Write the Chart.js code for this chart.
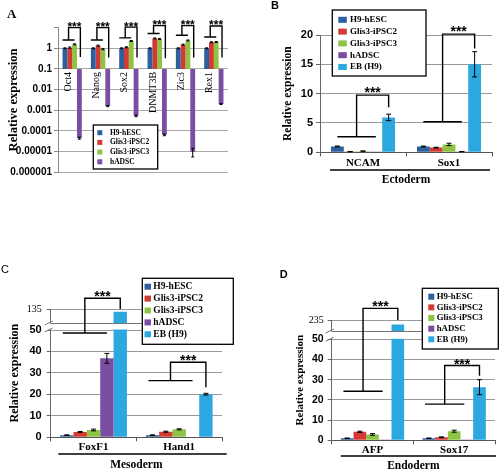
<!DOCTYPE html>
<html>
<head>
<meta charset="utf-8">
<script src="https://cdn.jsdelivr.net/npm/chart.js@4.4.1/dist/chart.umd.min.js"></script>
<style>
  body { margin: 0; background: #fff; }
  #page { position: relative; width: 500px; height: 475px; overflow: hidden; background: #fff; }
  #page canvas { position: absolute; left: 0; top: 0; }
</style>
</head>
<body>
<div id="page">
  <canvas id="chartA" width="500" height="475"></canvas>
  <canvas id="chartB" width="500" height="475"></canvas>
  <canvas id="chartC" width="500" height="475"></canvas>
  <canvas id="chartD" width="500" height="475"></canvas>
</div>
<script>
// ---- shared series ----
const cellLines = ["H9-hESC", "Glis3-iPSC2", "Glis3-iPSC3", "hADSC", "EB (H9)"];
const lineColors = ["#2d5e9e", "#d33a33", "#8dc443", "#7a4ea2", "#2ba8e0"];

// ---- A: pluripotency markers, log axis, bars start at 0.1 ----
const pluriGenes = ["Oct4", "Nanog", "Sox2", "DNMT3B", "Zic3", "Rex1"];
const pluriTicks = [0.000001, 0.00001, 0.0001, 0.001, 0.01, 0.1, 1, 10];
const pluriCross = 0.1;
const pluriH9 = [1, 1, 1, 1, 1, 1];
const pluriIPSC2 = [1.07, 1.34, 1.12, 3.0, 1.5, 1.95];
const pluriIPSC3 = [1.55, 0.9, 2.25, 2.8, 2.4, 2.0];
const pluriADSC = [0.000045, 0.0016, 0.00054, 0.000065, 0.00001, 0.002];
const pluriErrH9 = [0.05, 0.05, 0.05, 0.05, 0.05, 0.05];
const pluriErrIPSC2 = [0.08, 0.08, 0.06, 0.15, 0.08, 0.1];
const pluriErrIPSC3 = [0.08, 0.05, 0.12, 0.15, 0.12, 0.1];
const pluriErrADSC = [0.000005, 0.0001, 0.00005, 0.000006, 0.0000045, 0.0001];
const pluriSigBase = [2.5, 2.5, 3.2, 5.2, 4.3, 3.5];
const pluriSigTop = [10, 10, 10.5, 12.5, 12.5, 12];
const pluriSigEnd = [0.38, 0.36, 0.36, 0.33, 0.36, 0.36];

// ---- B: ectoderm ----
const ectoGenes = ["NCAM", "Sox1"];
const ectoTicks = [0, 5, 10, 15, 20];
const ectoH9 = [1.0, 1.0];
const ectoIPSC2 = [0.12, 0.8];
const ectoIPSC3 = [0.2, 1.35];
const ectoADSC = [0.02, 0.12];
const ectoEB = [5.95, 15.0];
const ectoErrH9 = [0.07, 0.06];
const ectoErrIPSC2 = [0.02, 0.06];
const ectoErrIPSC3 = [0.03, 0.2];
const ectoErrADSC = [0, 0.02];
const ectoErrEB = [0.55, 2.15];
const ectoSigBase = [2.65, 5.2];
const ectoSigTop = [9.75, 20.15];
const ectoSigEnd = [7.7, 17.7];

// ---- C: mesoderm (broken axis 50 // 135) ----
const mesoGenes = ["FoxF1", "Hand1"];
const mesoTicks = [0, 10, 20, 30, 40, 50, 135];
const mesoH9 = [1.0, 1.0];
const mesoIPSC2 = [2.5, 2.6];
const mesoIPSC3 = [3.4, 3.7];
const mesoADSC = [36.8, 0.2];
const mesoEB = [128, 20.1];
const mesoErrH9 = [0.15, 0.15];
const mesoErrIPSC2 = [0.2, 0.25];
const mesoErrIPSC3 = [0.4, 0.25];
const mesoErrADSC = [2.3, 0];
const mesoErrEB = [0, 0.4];
const mesoSigBase = [48.6, 26.4];
const mesoSigTop = [162, 35];
const mesoSigEnd = [135, 23.3];

// ---- D: endoderm (broken axis 50 // 235) ----
const endoGenes = ["AFP", "Sox17"];
const endoTicks = [0, 10, 20, 30, 40, 50, 235];
const endoH9 = [1.0, 1.0];
const endoIPSC2 = [4.2, 1.5];
const endoIPSC3 = [2.9, 4.5];
const endoADSC = [0.05, 0.2];
const endoEB = [221, 26.3];
const endoErrH9 = [0.15, 0.15];
const endoErrIPSC2 = [0.3, 0.2];
const endoErrIPSC3 = [0.4, 0.5];
const endoErrADSC = [0, 0];
const endoErrEB = [0, 3.7];
const endoSigBase = [24.3, 17.9];
const endoSigTop = [272, 37];
const endoSigEnd = [235, 32];

// ---- fonts ----
const SERIF = '"Liberation Serif", "Times New Roman", serif';
const SANS = '"Liberation Sans", Arial, sans-serif';
const serifBold = s => ({ family: SERIF, size: s, weight: 'bold' });
const sansBold = s => ({ family: SANS, size: s, weight: 'bold' });

// linear axis with a gap: 0..at is linear, then a small band from "from" up to max
class BrokenLinearScale extends Chart.LinearScale {
  getPixelForValue(value) {
    const b = this.options.brk;
    const lowH = this.bottom - this.top - b.upperPx - b.gapPx;
    if (value <= b.at) return this.bottom - (value - this.min) / (b.at - this.min) * lowH;
    const yb = this.top + b.upperPx;
    const t = Math.max(0, (value - b.from) / (this.max - b.from));
    return yb - t * b.upperPx;
  }
  getValueForPixel(pixel) {
    const b = this.options.brk;
    const lowH = this.bottom - this.top - b.upperPx - b.gapPx;
    const yb = this.top + b.upperPx;
    if (pixel >= yb + b.gapPx) return this.min + (this.bottom - pixel) / lowH * (b.at - this.min);
    return b.from + (yb - pixel) / b.upperPx * (this.max - b.from);
  }
}
BrokenLinearScale.id = 'brokenLinear';
BrokenLinearScale.defaults = {};
Chart.register(BrokenLinearScale);

function series(values, i, errs) {
  return { label: cellLines[i], data: values, backgroundColor: lineColors[i], errors: errs };
}

// error bars, significance brackets, break band, legend box, panel letter
function makeExtras(spec) {
  return {
    id: 'extras',
    afterDatasetsDraw(chart) {
      const ctx = chart.ctx, y = chart.scales.y;
      ctx.save();
      ctx.strokeStyle = '#000';
      ctx.lineWidth = 1;
      chart.data.datasets.forEach((ds, i) => {
        const meta = chart.getDatasetMeta(i);
        (ds.errors || []).forEach((e, j) => {
          if (!e) return;
          const raw = ds.data[j];
          const v = Array.isArray(raw) ? raw[1] : raw;
          const el = meta.data[j];
          const y1 = y.getPixelForValue(v + e), y2 = y.getPixelForValue(v - e);
          const cap = spec.cap;
          ctx.beginPath();
          ctx.moveTo(el.x, y1); ctx.lineTo(el.x, y2);
          ctx.moveTo(el.x - cap, y1); ctx.lineTo(el.x + cap, y1);
          ctx.moveTo(el.x - cap, y2); ctx.lineTo(el.x + cap, y2);
          ctx.stroke();
        });
      });
      ctx.restore();
    },
    afterDraw(chart) {
      const ctx = chart.ctx, y = chart.scales.y, area = chart.chartArea;
      ctx.save();

      if (spec.broken) {
        const b = y.options.brk;
        const yb = y.top + b.upperPx, y50 = y.getPixelForValue(b.at);
        ctx.fillStyle = '#fff';
        ctx.fillRect(area.left - 1, yb + 0.5, area.right - area.left + 2, y50 - yb - 1);
        ctx.strokeStyle = '#777';
        ctx.lineWidth = 1;
        ctx.beginPath();
        ctx.moveTo(area.left, Math.round(yb) + 0.5); ctx.lineTo(area.right, Math.round(yb) + 0.5);
        ctx.stroke();
        ctx.beginPath();
        [yb, y50].forEach(yy => { ctx.moveTo(area.left - 6, yy + 2); ctx.lineTo(area.left + 2, yy - 2); });
        ctx.stroke();
      }

      if (spec.rotLabels) {
        const x = chart.scales.x, yc = y.getPixelForValue(spec.rotLabels.at);
        ctx.fillStyle = '#000';
        ctx.font = spec.rotLabels.font;
        ctx.textAlign = 'right';
        ctx.textBaseline = 'middle';
        chart.data.labels.forEach((lab, j) => {
          ctx.save();
          ctx.translate(x.getPixelForValue(j) + spec.rotLabels.dx, yc + 3);
          ctx.rotate(-Math.PI / 2);
          ctx.fillText(lab, 0, 0);
          ctx.restore();
        });
      }

      if (spec.underline) {
        const u = spec.underline;
        ctx.strokeStyle = '#000';
        ctx.lineWidth = 1.5;
        ctx.beginPath();
        ctx.moveTo(area.left + u.dl, area.bottom + u.dy);
        ctx.lineTo(area.right + u.dr, area.bottom + u.dy);
        ctx.stroke();
      }

      const s = spec.sig;
      ctx.strokeStyle = '#000';
      ctx.lineWidth = 1.4;
      ctx.fillStyle = '#000';
      ctx.font = 'bold ' + s.star + 'px ' + SANS;
      ctx.textAlign = 'center';
      ctx.textBaseline = 'alphabetic';
      chart.data.labels.forEach((_, j) => {
        const px = ([d, f]) => { const el = chart.getDatasetMeta(d).data[j]; return el.x + f * el.width; };
        const x1 = px(s.a), x2 = px(s.b), xl = (x1 + x2) / 2, xr = px(s.c);
        const yB = y.getPixelForValue(s.base[j]), yT = y.getPixelForValue(s.top[j]), yE = y.getPixelForValue(s.end[j]);
        ctx.beginPath();
        ctx.moveTo(x1, yB); ctx.lineTo(x2, yB);
        ctx.moveTo(xl, yB); ctx.lineTo(xl, yT); ctx.lineTo(xr, yT); ctx.lineTo(xr, yE);
        ctx.stroke();
        ctx.fillText('***', (xl + xr) / 2, yT - s.gap + s.star * 0.57);
      });

      const L = spec.legend;
      ctx.fillStyle = '#fff';
      ctx.fillRect(L.x, L.y, L.w, L.h);
      ctx.lineWidth = 1.3;
      ctx.strokeStyle = '#000';
      ctx.strokeRect(L.x, L.y, L.w, L.h);
      ctx.font = L.font;
      ctx.textAlign = 'left';
      ctx.textBaseline = 'middle';
      chart.data.datasets.forEach((ds, i) => {
        const cy = L.row0 + i * L.step;
        ctx.fillStyle = ds.backgroundColor;
        ctx.fillRect(L.sx, cy - L.sh / 2, L.sw, L.sh);
        ctx.fillStyle = '#000';
        ctx.fillText(ds.label, L.tx, cy);
      });

      const T = spec.tag;
      ctx.font = T.font;
      ctx.fillStyle = '#000';
      ctx.textAlign = 'center';
      ctx.textBaseline = 'middle';
      ctx.fillText(T.text, T.x, T.y);
      ctx.restore();
    }
  };
}

const common = {
  responsive: false,
  animation: false,
  devicePixelRatio: 1,
  events: [],
};
const noLegend = { legend: { display: false }, tooltip: { enabled: false } };
const yTitle = (size, top) => ({ display: true, text: 'Relative expression', color: '#000', font: serifBold(size), padding: { top: top, bottom: 0 } });

// ---------- A ----------
new Chart(document.getElementById('chartA'), {
  type: 'bar',
  data: {
    labels: pluriGenes,
    datasets: [
      series(pluriH9.map(v => [pluriCross, v]), 0, pluriErrH9),
      series(pluriIPSC2.map(v => [pluriCross, v]), 1, pluriErrIPSC2),
      series(pluriIPSC3.map(v => [pluriCross, v]), 2, pluriErrIPSC3),
      series(pluriADSC.map(v => [pluriCross, v]), 3, pluriErrADSC),
    ]
  },
  options: {
    ...common,
    layout: { padding: { left: 6, right: 272, top: 27.6, bottom: 302.7 } },
    plugins: noLegend,
    datasets: { bar: { categoryPercentage: 0.68, barPercentage: 1 } },
    scales: {
      x: { display: false },
      y: {
        type: 'logarithmic', min: 0.000001, max: 10,
        afterBuildTicks: s => { s.ticks = pluriTicks.map(v => ({ value: v })); },
        afterFit: s => { s.width = 52; },
        grid: { color: c => (c.tick && c.tick.value === 10) ? 'rgba(0,0,0,0)' : '#a8a8a8', tickColor: '#888', tickLength: 4 },
        border: { color: '#888' },
        ticks: {
          padding: 2, color: '#000', font: sansBold(10),
          callback: v => v >= 10 ? '' : (v >= 1 ? String(v) : v.toFixed(Math.round(-Math.log10(v))))
        },
        title: yTitle(12.5, 0)
      }
    }
  },
  plugins: [makeExtras({
    cap: 1.5,
    rotLabels: { at: pluriCross, dx: -4, font: '10px ' + SERIF },
    sig: { a: [0, -0.5], b: [2, 0], c: [3, 0.2], base: pluriSigBase, top: pluriSigTop, end: pluriSigEnd, gap: 3.5, star: 12 },
    legend: { x: 93.3, y: 125, w: 64.4, h: 44, row0: 132.7, step: 9.7, sx: 97.3, sw: 5, sh: 5, tx: 110, font: 'bold 7.5px ' + SERIF },
    tag: { text: 'A', x: 11.7, y: 14.5, font: 'bold 13px ' + SERIF }
  })]
});

// ---------- B, C, D share the same shape ----------
function groupChart(id, o) {
  return new Chart(document.getElementById(id), {
    type: 'bar',
    data: {
      labels: o.labels,
      datasets: o.sets.map((vals, i) => series(vals, i, o.errs[i]))
    },
    options: {
      ...common,
      layout: { padding: o.pad },
      plugins: noLegend,
      datasets: { bar: { categoryPercentage: o.catPct, barPercentage: 1 } },
      scales: {
        x: {
          grid: { display: true, drawOnChartArea: false, color: '#555', tickLength: 4 },
          border: { color: '#555' },
          ticks: { padding: o.xPad, color: '#000', font: serifBold(11) },
          title: { display: true, text: o.group, color: '#000', font: serifBold(11.5), padding: { top: 0, bottom: o.gPad } },
          afterFit: s => { s.height = o.xH; }
        },
        y: Object.assign({
          min: 0, max: o.max,
          afterBuildTicks: s => { s.ticks = o.ticks.map(v => ({ value: v })); },
          afterFit: s => { s.width = o.yW; },
          grid: { color: '#999', tickColor: '#666', tickLength: 4 },
          border: { color: '#666' },
          ticks: {
            padding: o.yPad, color: '#000',
            font: c => (c.tick && c.tick.value > 50) ? { family: SERIF, size: 10 } : sansBold(o.tickSize)
          },
          title: yTitle(o.titleSize, o.titlePad)
        }, o.yExtra || {})
      }
    },
    plugins: [makeExtras(o.extras)]
  });
}

groupChart('chartB', {
  labels: ectoGenes, group: 'Ectoderm', ticks: ectoTicks, max: 20,
  sets: [ectoH9, ectoIPSC2, ectoIPSC3, ectoADSC, ectoEB],
  errs: [ectoErrH9, ectoErrIPSC2, ectoErrIPSC3, ectoErrADSC, ectoErrEB],
  pad: { left: 280, right: 8, top: 35, bottom: 287.7 },
  catPct: 0.745, xPad: 0, gPad: 0.7, xH: 35, yW: 40, yPad: 3, tickSize: 11, titleSize: 11.5, titlePad: 1,
  extras: {
    cap: 2.5,
    underline: { dy: 17.7, dl: 10, dr: -2 },
    sig: { a: [0, 0], b: [3, 0], c: [4, 0], base: ectoSigBase, top: ectoSigTop, end: ectoSigEnd, gap: 6, star: 14 },
    legend: { x: 332.3, y: 10, w: 93.7, h: 66, row0: 19.8, step: 11.8, sx: 338.3, sw: 8.5, sh: 6, tx: 350, font: 'bold 9px ' + SERIF },
    tag: { text: 'B', x: 275, y: 6, font: 'bold 11px ' + SANS }
  }
});

groupChart('chartC', {
  labels: mesoGenes, group: 'Mesoderm', ticks: mesoTicks, max: 135,
  sets: [mesoH9, mesoIPSC2, mesoIPSC3, mesoADSC, mesoEB],
  errs: [mesoErrH9, mesoErrIPSC2, mesoErrIPSC3, mesoErrADSC, mesoErrEB],
  pad: { left: 6.7, right: 278, top: 309, bottom: 3.4 },
  catPct: 0.78, xPad: -1, gPad: 0, xH: 34.3, yW: 44, yPad: 5, tickSize: 11, titleSize: 12, titlePad: 1.1,
  yExtra: { type: 'brokenLinear', brk: { at: 50, from: 100, upperPx: 14, gapPx: 7 } },
  extras: {
    cap: 2.5, broken: true,
    underline: { dy: 16.7, dl: 7.6, dr: 4.7 },
    sig: { a: [0, -0.3], b: [3, 0], c: [4, 0], base: mesoSigBase, top: mesoSigTop, end: mesoSigEnd, gap: 5, star: 14 },
    legend: { x: 142.3, y: 278.3, w: 91, h: 66, row0: 286.7, step: 11.9, sx: 144.5, sw: 6.5, sh: 6, tx: 153.3, font: 'bold 9.5px ' + SERIF },
    tag: { text: 'C', x: 5, y: 270, font: '11px ' + SANS }
  }
});

groupChart('chartD', {
  labels: endoGenes, group: 'Endoderm', ticks: endoTicks, max: 235,
  sets: [endoH9, endoIPSC2, endoIPSC3, endoADSC, endoEB],
  errs: [endoErrH9, endoErrIPSC2, endoErrIPSC3, endoErrADSC, endoErrEB],
  pad: { left: 292.7, right: 5, top: 320, bottom: 1.7 },
  catPct: 0.775, xPad: -1, gPad: 0, xH: 33, yW: 39, yPad: 4, tickSize: 10.5, titleSize: 11, titlePad: 0.7,
  yExtra: { type: 'brokenLinear', brk: { at: 50, from: 200, upperPx: 11, gapPx: 8.3 } },
  extras: {
    cap: 2.5, broken: true,
    underline: { dy: 15.7, dl: 9, dr: 1 },
    sig: { a: [0, -0.3], b: [3, -0.2], c: [4, 0], base: endoSigBase, top: endoSigTop, end: endoSigEnd, gap: 5, star: 14 },
    legend: { x: 422.3, y: 288.3, w: 76, h: 60.7, row0: 296.7, step: 10.65, sx: 428.3, sw: 6, sh: 6, tx: 436.7, font: 'bold 8.8px ' + SERIF },
    tag: { text: 'D', x: 283.7, y: 275, font: 'bold 11px ' + SANS }
  }
});
</script>
</body>
</html>
